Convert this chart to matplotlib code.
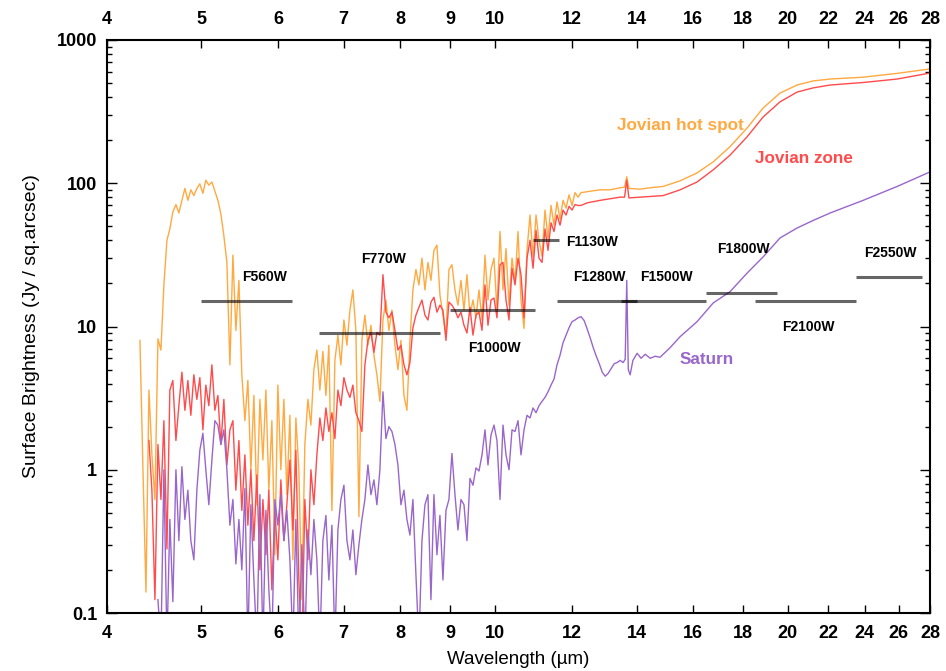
import numpy as np
import matplotlib
matplotlib.use("Agg")
import matplotlib.pyplot as plt
from matplotlib.ticker import FixedLocator, NullFormatter, LogLocator

# ---------------------------------------------------------------- data
# common wavelength grid (um) for the noisy short-wavelength part
wl_fine = [
    4.324, 4.355, 4.386, 4.417, 4.448, 4.480, 4.512, 4.544, 4.576, 4.609,
    4.641, 4.674, 4.708, 4.741, 4.775, 4.809, 4.843, 4.877, 4.912, 4.947,
    4.982, 5.018, 5.053, 5.089, 5.126, 5.162, 5.199, 5.236, 5.273, 5.311,
    5.349, 5.387, 5.425, 5.464, 5.502, 5.542, 5.581, 5.621, 5.661, 5.701,
    5.742, 5.783, 5.824, 5.865, 5.907, 5.949, 5.991, 6.034, 6.077, 6.120,
    6.164, 6.208, 6.252, 6.296, 6.341, 6.386, 6.432, 6.478, 6.524, 6.570,
    6.617, 6.664, 6.712, 6.759, 6.808, 6.856, 6.905, 6.954, 7.004, 7.054,
    7.104, 7.154, 7.205, 7.257, 7.308, 7.360, 7.413, 7.466, 7.519, 7.572,
    7.626, 7.681, 7.735, 7.790, 7.846, 7.902, 7.958, 8.015, 8.072, 8.129,
    8.187, 8.245, 8.304, 8.363, 8.423, 8.483, 8.543, 8.604, 8.665, 8.727,
    8.789, 8.852, 8.915, 8.978, 9.042, 9.107, 9.171, 9.237, 9.303, 9.369,
    9.436, 9.503, 9.571, 9.639, 9.708, 9.777, 9.846, 9.917, 9.987, 10.058,
    10.130, 10.202, 10.275, 10.348, 10.422, 10.496, 10.571, 10.646, 10.722, 10.798,
    10.875, 10.953, 11.031, 11.109, 11.188, 11.268, 11.348, 11.429, 11.510, 11.592,
    11.675, 11.758, 11.842, 11.926, 12.011, 12.096, 12.183,
]

# Jovian hot spot (Jy / sq.arcsec) on wl_fine
hotspot_fine = [
    8.0, 1.0, 0.14, 3.6, 1.27, 0.62, 8.2, 6.85, 19.5, 40,
    48, 63, 71, 62, 76, 92, 76, 90, 82, 92,
    99, 85, 105, 97, 102, 88, 76, 61, 43, 28,
    5.4, 31.5, 9.4, 21, 4.6, 2.2, 4.2, 1.0, 3.3, 0.57,
    3.1, 1.17, 3.6, 0.72, 2.2, 0.255, 3.9, 1.0, 3.1, 0.67,
    2.4, 0.235, 2.3, 1.0, 0.124, 1.5, 3.1, 2.05, 5.0, 6.85,
    3.6, 6.7, 3.3, 7.4, 0.52, 5.8, 8.7, 5.4, 11.1, 7.4,
    13, 18, 9.4, 0.47, 8.0, 12, 7.4, 10.2, 6.3, 4.6,
    3.0, 11.1, 15.3, 9.4, 13, 7.4, 5.0, 8.0, 3.3, 2.6,
    8.0, 18, 25, 19.5, 30, 18, 28, 21, 34, 37,
    16.6, 12, 8.7, 25, 27, 18, 14.1, 21, 13, 23,
    12, 15.3, 11.5, 18, 11.1, 31.5, 15.3, 25, 30, 13,
    46, 18, 35, 14.1, 30, 20.5, 46, 15.3, 9.7, 34,
    60, 30.5, 60, 40, 31, 65, 41, 70, 51, 74,
    56, 76, 67, 83, 70, 86, 80,
]

# Jovian zone on the tail of wl_fine (starts at 4.417 um)
zone_fine = [
    1.6, 0.72, 0.124, 1.5, 0.62, 2.2, 0.28,
    3.6, 4.2, 1.6, 2.8, 4.8, 2.6, 4.2, 2.4, 4.6, 3.1,
    4.4, 1.9, 3.9, 2.8, 5.4, 2.6, 3.3, 1.5, 3.1, 1.08,
    1.9, 2.2, 0.72, 1.6, 0.52, 1.27, 0.41, 1.0, 0.32, 0.92,
    0.2, 0.62, 0.255, 0.72, 0.145, 0.52, 0.235, 0.85, 0.32, 0.57,
    1.17, 0.38, 1.37, 0.17, 0.05, 0.62, 0.235, 1.0, 0.57, 1.27,
    2.3, 1.6, 2.7, 1.85, 2.5, 1.65, 3.6, 2.8, 4.4, 3.6,
    3.2, 3.9, 2.5, 2.2, 1.85, 5.4, 8.0, 9.1, 6.6, 9.1,
    8.7, 23, 12.6, 11.5, 12.6, 9.4, 6.85, 7.4, 5.4, 4.6,
    5.6, 9.8, 12, 13.6, 15.3, 12, 11.1, 14.8, 16, 12.6,
    14.1, 13, 8.0, 14.8, 14.1, 13, 11.5, 12.6, 10.2, 9.0,
    13.6, 8.7, 12, 12.6, 9.4, 19.5, 10.2, 15.3, 15.8, 11.5,
    27, 28, 15.3, 11.1, 25.5, 19.5, 30, 23, 11.5, 30,
    40, 25.5, 47, 30, 28, 48, 34, 53, 46, 60,
    51, 65, 60, 69, 65, 71, 70,
]

# Saturn on the tail of wl_fine (starts at 4.512 um)
saturn_fine = [
    0.124, 0.06, 1.0, 0.06,
    0.45, 0.12, 1.0, 0.32, 1.05, 0.45, 0.72, 0.32, 0.235, 0.72,
    1.37, 1.8, 1.0, 0.57, 1.17, 2.2, 2.05, 1.5, 1.9, 1.0,
    0.41, 0.62, 0.22, 0.45, 0.2, 0.74, 0.06, 0.57, 0.17, 0.06,
    0.67, 0.06, 0.52, 0.145, 0.06, 0.62, 0.41, 0.67, 0.32, 0.52,
    0.235, 0.06, 0.45, 0.06, 0.30, 0.06, 0.38, 0.185, 0.45, 0.235,
    0.06, 0.32, 0.48, 0.17, 0.41, 0.06, 0.38, 0.62, 0.78, 0.32,
    0.235, 0.38, 0.185, 0.30, 0.45, 0.62, 1.08, 0.67, 0.85, 0.57,
    1.0, 3.5, 1.65, 2.0, 1.85, 1.5, 1.08, 0.57, 0.72, 0.45,
    0.35, 0.62, 0.185, 0.06, 0.32, 0.57, 0.67, 0.124, 0.67, 0.255,
    0.48, 0.17, 0.52, 0.62, 1.3, 0.67, 0.38, 0.62, 0.57, 0.32,
    0.87, 0.78, 1.03, 0.98, 1.27, 1.9, 1.08, 1.75, 2.05, 1.6,
    0.62, 2.05, 1.27, 1.0, 1.9, 1.85, 2.2, 1.27, 1.9, 2.4,
    2.3, 2.7, 2.5, 2.8, 3.0, 3.2, 3.5, 3.9, 4.3, 5.4,
    6.3, 7.7, 8.7, 9.8, 10.8, 11.1, 11.5,
]

# long-wavelength parts
wl_hotspot_long = [12.27, 12.54, 12.84, 13.14, 13.46, 13.60, 13.67, 13.74, 14.11,
                   14.45, 14.90, 15.51, 16.14, 16.77, 17.45, 18.17, 18.87, 19.64,
                   20.45, 21.24, 22.11, 23.91, 25.91, 28.0]
hotspot_long = [86, 88, 90, 90, 93, 94, 111, 92, 91,
                93, 95, 104, 118, 141, 180, 243, 335, 426,
                485, 518, 534, 550, 585, 628]

wl_zone_long = [12.27, 12.45, 12.84, 13.14, 13.46, 13.60, 13.67, 13.74, 14.11,
                14.45, 14.90, 15.51, 16.14, 16.77, 17.45, 18.17, 18.87, 19.64,
                20.45, 21.24, 22.11, 23.91, 25.91, 28.0]
zone_long = [70, 73, 76, 78, 80, 80, 105, 79, 80,
             81, 82, 90, 102, 124, 157, 211, 290, 370,
             433, 463, 485, 505, 534, 588]

wl_saturn_long = [12.27, 12.36, 12.45, 12.54, 12.63, 12.72, 12.81, 12.90, 12.99,
                  13.08, 13.18, 13.27, 13.36, 13.46, 13.55, 13.62, 13.67, 13.72,
                  13.78, 13.87, 14.01, 14.14, 14.28, 14.45, 14.62, 14.79, 14.97,
                  15.14, 15.51, 16.14, 16.77, 17.45, 18.17, 18.87, 19.64, 20.45,
                  21.24, 22.11, 23.91, 25.91, 28.0]
saturn_long = [11.7, 11.0, 9.6, 8.3, 7.1, 6.2, 5.5, 4.8, 4.5,
               4.7, 5.1, 5.5, 5.6, 5.8, 5.6, 5.9, 21, 5.0,
               4.6, 5.8, 6.5, 6.0, 6.4, 6.0, 6.2, 6.1, 6.6,
               7.1, 8.5, 10.8, 14.6, 17.5, 23.6, 30.6, 41.5, 48.7,
               55, 62, 76, 95, 120]

# MIRI imager filters: name, short / long edge (um), level, label position
filter_names = ["F560W", "F770W", "F1000W", "F1130W", "F1280W",
                "F1500W", "F1800W", "F2100W", "F2550W"]
filter_lo = [5.0, 6.6, 9.0, 10.95, 11.6, 13.5, 16.5, 18.5, 23.5]
filter_hi = [6.2, 8.8, 11.0, 11.65, 14.0, 16.5, 19.5, 23.5, 27.5]
filter_level = [15, 9, 13, 40, 15, 15, 17, 15, 22]
filter_label_x = [5.80, 7.70, 10.0, 12.6, 12.8, 15.0, 18.0, 21.0, 25.5]
filter_label_y = [22, 29.5, 7.05, 39, 22, 22, 34.8, 9.9, 32.4]

series_names = ["Jovian hot spot", "Jovian zone", "Saturn"]
series_label_x = [15.5, 20.8, 16.5]
series_label_y = [251, 149, 5.9]

x_ticks = [4, 5, 6, 7, 8, 9, 10, 12, 14, 16, 18, 20, 22, 24, 26, 28]
y_ticks = [0.1, 1, 10, 100, 1000]
y_tick_labels = ["0.1", "1", "10", "100", "1000"]

# ---------------------------------------------------------------- style
plt.rcParams["font.family"] = ["Liberation Sans", "DejaVu Sans"]

c_hot = "#FFA940"
c_zone = "#FF4B4B"
c_sat = "#9966CC"

fig = plt.figure(figsize=(9.46, 6.71), dpi=100)
ax = fig.add_axes([107 / 946, 1 - 613 / 671, 823 / 946, 573 / 671])
ax.set_xscale("log")
ax.set_yscale("log")
ax.set_xlim(4, 28)
ax.set_ylim(0.1, 1000)

wl_fine_a = np.array(wl_fine)
hot_wl = np.concatenate([wl_fine_a, wl_hotspot_long])
hot_val = np.concatenate([hotspot_fine, hotspot_long])
zone_wl = np.concatenate([wl_fine_a[-len(zone_fine):], wl_zone_long])
zone_val = np.concatenate([zone_fine, zone_long])
sat_wl = np.concatenate([wl_fine_a[-len(saturn_fine):], wl_saturn_long])
sat_val = np.concatenate([saturn_fine, saturn_long])

ax.plot(hot_wl, hot_val, color=c_hot, lw=1.0, zorder=2)
ax.plot(zone_wl, zone_val, color=c_zone, lw=1.0, zorder=2.1)
ax.plot(sat_wl, sat_val, color=c_sat, lw=1.0, zorder=2.2)

for name, lo, hi, lev, tx, ty in zip(filter_names, filter_lo, filter_hi, filter_level,
                                      filter_label_x, filter_label_y):
    ax.plot([lo, hi], [lev, lev], color="black", alpha=0.6, lw=2.2,
            solid_capstyle="butt", zorder=3)
    ax.text(tx, ty, name, ha="center", va="center", fontsize=10,
            fontweight="bold", color="black", zorder=4)

for name, col, tx, ty in zip(series_names, [c_hot, c_zone, c_sat],
                             series_label_x, series_label_y):
    ax.text(tx, ty, name, ha="center", va="center", fontsize=12.3,
            fontweight="bold", color=col, zorder=4)

# axes, ticks
ax.xaxis.set_major_locator(FixedLocator(x_ticks))
ax.xaxis.set_minor_locator(FixedLocator([]))
ax.set_xticklabels([str(t) for t in x_ticks])
ax.xaxis.set_minor_formatter(NullFormatter())
ax.yaxis.set_major_locator(FixedLocator(y_ticks))
ax.set_yticklabels(y_tick_labels)
ax.yaxis.set_minor_locator(LogLocator(base=10, subs=np.arange(2, 10)))
ax.yaxis.set_minor_formatter(NullFormatter())

ax.tick_params(axis="both", which="both", direction="in", top=True, right=True,
               width=1.0, color="black")
ax.tick_params(axis="x", which="major", length=6, labeltop=True, pad=9)
ax.tick_params(axis="y", which="major", length=7, pad=7)
ax.tick_params(axis="y", which="minor", length=3.5)
for lab in ax.get_xticklabels() + ax.get_yticklabels():
    lab.set_fontsize(13)
    lab.set_fontweight("bold")
for sp in ax.spines.values():
    sp.set_linewidth(1.5)

ax.set_xlabel("Wavelength (\u00b5m)", fontsize=13.5, labelpad=6)
ax.set_ylabel("Surface Brightness (Jy / sq.arcsec)", fontsize=14, labelpad=12)

fig.savefig("out.png", dpi=100)
